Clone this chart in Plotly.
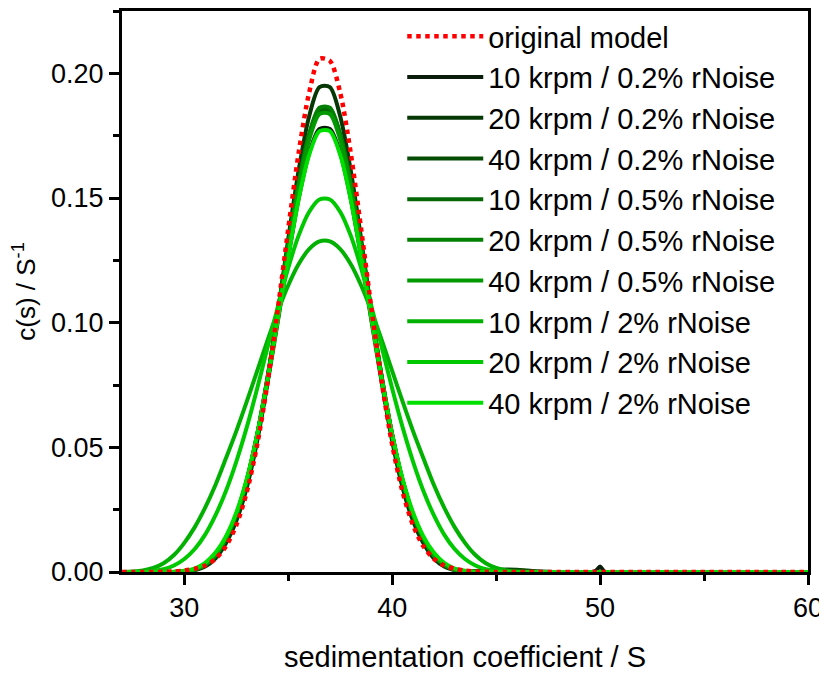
import plotly.graph_objects as go

# sedimentation coefficient grid (S)
s_values = [27.0, 27.5, 28.0, 28.5, 29.0, 29.5, 30.0, 30.5, 31.0, 31.5,
            32.0, 32.5, 33.0, 33.5, 34.0, 34.5, 35.0, 35.5, 36.0, 36.5,
            37.0, 37.5, 38.0, 38.5, 39.0, 39.5, 40.0, 40.5, 41.0, 41.5,
            42.0, 42.5, 43.0, 43.5, 44.0, 44.5, 45.0, 45.5, 46.0, 46.5,
            47.0, 47.5, 48.0, 49.0, 49.6, 49.8, 50.0, 50.2, 50.4, 51.0, 60.0]

original_model = [0, 0, 0, 0, 0.0001, 0.0002, 0.0006, 0.0013, 0.0026, 0.0053,
                  0.0103, 0.0188, 0.0320, 0.0509, 0.0758, 0.1057, 0.1378, 0.1682, 0.1921, 0.2058,
                  0.2050, 0.1921, 0.1682, 0.1378, 0.1057, 0.0758, 0.0509, 0.0320, 0.0188, 0.0103,
                  0.0053, 0.0026, 0.0013, 0.0006, 0.0002, 0.0001, 0, 0, 0, 0,
                  0, 0, 0, 0, 0, 0, 0, 0, 0, 0, 0]

k10_r02 = [0, 0, 0, 0, 0, 0, 0.0003, 0.0011, 0.0032, 0.0068,
           0.0136, 0.0231, 0.0363, 0.0540, 0.0760, 0.1008, 0.1265, 0.1499, 0.1679, 0.1777,
           0.1777, 0.1679, 0.1499, 0.1265, 0.1008, 0.0760, 0.0540, 0.0363, 0.0231, 0.0136,
           0.0068, 0.0032, 0.0011, 0.0003, 0, 0, 0, 0, 0, 0,
           0, 0, 0, 0, 0, 0.0005, 0.0022, 0.0002, 0, 0, 0]

k20_r02 = [0, 0, 0, 0, 0, 0, 0.0002, 0.0007, 0.0022, 0.0055,
           0.0115, 0.0205, 0.0338, 0.0524, 0.0762, 0.1041, 0.1337, 0.1612, 0.1827, 0.1945,
           0.1945, 0.1827, 0.1612, 0.1337, 0.1041, 0.0762, 0.0524, 0.0338, 0.0205, 0.0115,
           0.0055, 0.0022, 0.0007, 0.0002, 0, 0, 0, 0, 0, 0,
           0, 0, 0, 0, 0, 0, 0, 0, 0, 0, 0]

k40_r02 = [0, 0, 0, 0, 0, 0, 0.0003, 0.0010, 0.0030, 0.0068,
           0.0136, 0.0232, 0.0368, 0.0551, 0.0780, 0.1042, 0.1313, 0.1561, 0.1752, 0.1857,
           0.1857, 0.1752, 0.1561, 0.1313, 0.1042, 0.0780, 0.0551, 0.0368, 0.0232, 0.0136,
           0.0068, 0.0030, 0.0010, 0.0004, 0.0004, 0.0006, 0.0009, 0.0010, 0.0009, 0.0006,
           0.0003, 0.0001, 0, 0, 0, 0, 0, 0, 0, 0, 0]

k10_r05 = [0, 0, 0, 0, 0, 0, 0.0003, 0.0010, 0.0030, 0.0067,
           0.0136, 0.0231, 0.0366, 0.0549, 0.0776, 0.1036, 0.1306, 0.1553, 0.1743, 0.1847,
           0.1847, 0.1743, 0.1553, 0.1306, 0.1036, 0.0776, 0.0549, 0.0366, 0.0231, 0.0136,
           0.0067, 0.0030, 0.0010, 0.0003, 0, 0, 0, 0, 0, 0,
           0, 0, 0, 0, 0, 0, 0, 0, 0, 0, 0]

k20_r05 = [0, 0, 0, 0, 0, 0, 0.0003, 0.0010, 0.0029, 0.0067,
           0.0136, 0.0231, 0.0367, 0.0550, 0.0779, 0.1042, 0.1314, 0.1563, 0.1756, 0.1862,
           0.1862, 0.1756, 0.1563, 0.1314, 0.1042, 0.0779, 0.0550, 0.0367, 0.0231, 0.0136,
           0.0067, 0.0029, 0.0010, 0.0003, 0, 0, 0, 0, 0, 0,
           0, 0, 0, 0, 0, 0, 0, 0, 0, 0, 0]

k40_r05 = [0, 0, 0, 0, 0, 0, 0.0003, 0.0010, 0.0029, 0.0066,
           0.0135, 0.0229, 0.0364, 0.0546, 0.0772, 0.1030, 0.1299, 0.1544, 0.1733, 0.1837,
           0.1837, 0.1733, 0.1544, 0.1299, 0.1030, 0.0772, 0.0546, 0.0364, 0.0229, 0.0135,
           0.0066, 0.0029, 0.0010, 0.0003, 0, 0, 0, 0, 0, 0,
           0, 0, 0, 0, 0, 0, 0, 0, 0, 0, 0]

k10_r2 = [0, 0.0002, 0.0006, 0.0016, 0.0035, 0.0068, 0.0117, 0.0180, 0.0258, 0.0350,
          0.0456, 0.0565, 0.0683, 0.0806, 0.0929, 0.1046, 0.1150, 0.1235, 0.1295, 0.1326,
          0.1326, 0.1295, 0.1235, 0.1150, 0.1046, 0.0929, 0.0806, 0.0683, 0.0565, 0.0456,
          0.0350, 0.0258, 0.0180, 0.0117, 0.0068, 0.0035, 0.0016, 0.0006, 0.0002, 0,
          0, 0, 0, 0, 0, 0, 0, 0, 0, 0, 0]

k20_r2 = [0, 0, 0.0001, 0.0004, 0.0011, 0.0026, 0.0052, 0.0092, 0.0150, 0.0228,
          0.0325, 0.0443, 0.0580, 0.0735, 0.0900, 0.1065, 0.1220, 0.1350, 0.1444, 0.1494,
          0.1494, 0.1444, 0.1350, 0.1220, 0.1065, 0.0900, 0.0735, 0.0580, 0.0443, 0.0325,
          0.0228, 0.0150, 0.0092, 0.0052, 0.0026, 0.0011, 0.0004, 0.0001, 0, 0,
          0, 0, 0, 0, 0, 0, 0, 0, 0, 0, 0]

k40_r2 = [0, 0, 0, 0, 0, 0.0001, 0.0005, 0.0014, 0.0037, 0.0078,
          0.0143, 0.0239, 0.0373, 0.0550, 0.0768, 0.1014, 0.1266, 0.1496, 0.1672, 0.1768,
          0.1768, 0.1672, 0.1496, 0.1266, 0.1014, 0.0768, 0.0550, 0.0373, 0.0239, 0.0143,
          0.0078, 0.0037, 0.0014, 0.0005, 0.0001, 0, 0, 0, 0, 0,
          0, 0, 0, 0, 0, 0, 0, 0, 0, 0, 0]

series_names = ["10 krpm / 0.2% rNoise", "20 krpm / 0.2% rNoise", "40 krpm / 0.2% rNoise",
                "10 krpm / 0.5% rNoise", "20 krpm / 0.5% rNoise", "40 krpm / 0.5% rNoise",
                "10 krpm / 2% rNoise", "20 krpm / 2% rNoise", "40 krpm / 2% rNoise"]
series_values = [k10_r02, k20_r02, k40_r02, k10_r05, k20_r05, k40_r05, k10_r2, k20_r2, k40_r2]
series_colors = ["#0a1c0a", "#063806", "#054d05", "#046604", "#038003",
                 "#029902", "#02b002", "#00c800", "#00e000"]

x_ticks = [30, 40, 50, 60]
y_ticks = [0.00, 0.05, 0.10, 0.15, 0.20]

FONT = "Liberation Sans, Arial, sans-serif"

fig = go.Figure()
for i, (name, vals, col) in enumerate(zip(series_names, series_values, series_colors)):
    fig.add_trace(go.Scatter(
        x=s_values, y=vals, mode="lines", name=name,
        line=dict(color=col, width=4, shape="spline", smoothing=0.8),
        legendrank=i + 2,
    ))

fig.add_trace(go.Scatter(
    x=s_values, y=original_model, mode="lines", name="original model",
    line=dict(color="#ff0000", width=4.5, dash="dot", shape="spline", smoothing=0.8),
    legendrank=1,
))

axis_common = dict(
    showline=True, linewidth=3, linecolor="black", mirror=True,
    ticks="outside", ticklen=10, tickwidth=3, tickcolor="black",
    showgrid=False, zeroline=False, automargin=False,
    ticklabeloverflow="allow",
    tickfont=dict(family=FONT, size=27, color="black"),
)

# the page body adds an 8 px offset, so the figure is sized to fill the rest of the window
fig.update_layout(
    width=819, height=665,
    margin=dict(l=114, r=19, t=3, b=101),
    paper_bgcolor="white", plot_bgcolor="white",
    font=dict(family=FONT, color="black"),
    showlegend=True,
    legend=dict(
        x=0.4085, y=1.0, xanchor="left", yanchor="top",
        bgcolor="rgba(0,0,0,0)", borderwidth=0,
        font=dict(family=FONT, size=29, color="black"),
        itemwidth=76, tracegroupgap=0,
    ),
    xaxis=dict(
        range=[27, 60], tickvals=x_ticks,
        minor=dict(dtick=5, tick0=0, ticks="outside", ticklen=6, tickwidth=3, tickcolor="black"),
        title=dict(text="sedimentation coefficient / S", font=dict(family=FONT, size=29), standoff=33),
        **axis_common,
    ),
    yaxis=dict(
        range=[0, 0.225], tickvals=y_ticks, tickformat=".2f",
        minor=dict(dtick=0.025, tick0=0, ticks="outside", ticklen=6, tickwidth=3, tickcolor="black"),
        title=dict(text="c(s) / S<sup>-1</sup>", font=dict(family=FONT, size=26), standoff=9),
        **axis_common,
    ),
)

fig.write_html("out.html")
